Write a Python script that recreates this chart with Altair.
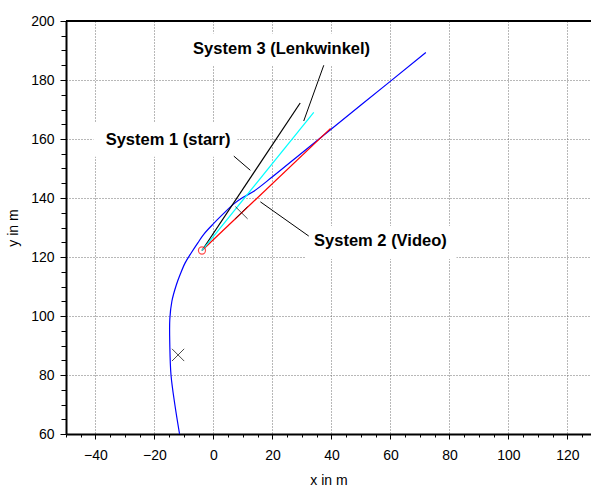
import altair as alt
import pandas as pd

# Vehicle track (blue), in metres
track_x = [-11.5, -13.1, -14.4, -14.8, -14.8, -14.1, -12.6, -11.2, -9.6, -7.4, -5.3,
           -3.3, 0.0, 3.3, 6.9, 10.2, 13.7, 20.0, 31.2, 50.0, 72.0]
track_y = [60.0, 70.0, 80.0, 90.0, 99.0, 105.0, 110.5, 114.3, 118.0, 121.6, 124.8,
           127.7, 131.3, 134.6, 138.0, 140.3, 142.3, 147.2, 156.3, 171.5, 189.3]

# Prediction rays from the current position
origin = (-3.9, 122.2)
ray_names = ["System 1 (starr)", "System 2 (Video)", "System 3 (Lenkwinkel)"]
ray_end_x = [29.4, 39.7, 34.0]
ray_end_y = [172.2, 163.6, 169.0]
ray_colors = ["#000000", "#ff0000", "#00ffff"]

# Cross markers
cross_x = [9.5, -12.0]
cross_y = [135.0, 86.8]

# Annotation labels with leader lines and white backing boxes
label_text = ["System 3 (Lenkwinkel)", "System 1 (starr)", "System 2 (Video)"]
label_x = [23.1, -15.4, 56.6]
label_y = [190.4, 159.6, 125.3]
leader_x = [37.4, 6.9, 15.9]
leader_y = [185.0, 154.2, 138.7]
leader_x2 = [30.6, 12.5, 32.3]
leader_y2 = [166.1, 149.4, 127.1]
box_x = [-11.2, -40.7, 31.2]
box_x2 = [57.3, 8.1, 82.4]
box_y = [185.0, 154.0, 119.3]
box_y2 = [195.8, 165.6, 130.5]

x_dom = [-50, 128]
y_dom = [60, 200]
x_vals = list(range(-50, 129, 5))
y_vals = list(range(60, 201, 5))

FONT = "Liberation Sans"

track = pd.DataFrame({"x": track_x, "y": track_y, "i": range(len(track_x))})
rays = pd.DataFrame({
    "name": ray_names * 2,
    "x": [origin[0]] * 3 + ray_end_x,
    "y": [origin[1]] * 3 + ray_end_y,
})
crosses = pd.DataFrame({"x": cross_x, "y": cross_y})
start = pd.DataFrame({"x": [origin[0]], "y": [origin[1]]})
labels = pd.DataFrame({"t": label_text, "x": label_x, "y": label_y})
leaders = pd.DataFrame({"x": leader_x, "y": leader_y, "x2": leader_x2, "y2": leader_y2})
boxes = pd.DataFrame({"x": box_x, "x2": box_x2, "y": box_y, "y2": box_y2})
frame = pd.DataFrame({"x": [x_dom[0]], "x2": [x_dom[1]], "y": [y_dom[1]]})

major = "datum.value % 20 === 0"

x_axis = alt.Axis(
    values=x_vals, title="x in m",
    labelExpr=f"{major} ? datum.label : ''",
    tickSize={"condition": {"test": major, "value": 5}, "value": 3},
    gridOpacity={"condition": {"test": f"{major} && datum.value > -50", "value": 1}, "value": 0},
    labelPadding=9, titlePadding=11,
)
y_axis = alt.Axis(
    values=y_vals, title="y in m",
    labelExpr=f"{major} ? datum.label : ''",
    tickSize={"condition": {"test": major, "value": 6}, "value": 5},
    gridOpacity={"condition": {"test": f"{major} && datum.value > 60 && datum.value < 200", "value": 1}, "value": 0},
    labelPadding=6, titlePadding=10,
)

X = alt.X("x:Q", scale=alt.Scale(domain=x_dom, nice=False, zero=False), axis=x_axis)
Y = alt.Y("y:Q", scale=alt.Scale(domain=y_dom, nice=False, zero=False), axis=y_axis)

track_layer = alt.Chart(track).mark_line(color="#0000ff", strokeWidth=1.2, interpolate="catmull-rom").encode(
    x=X, y=Y, order="i:Q"
)
ray_layer = alt.Chart(rays).mark_line(strokeWidth=1.2).encode(
    x=X, y=Y, detail="name:N",
    color=alt.Color("name:N", scale=alt.Scale(domain=ray_names, range=ray_colors), legend=None),
)
cross_layer = alt.Chart(crosses).mark_point(
    shape="M-1,-1L1,1M-1,1L1,-1", size=150, color="black", strokeWidth=1, filled=False
).encode(x=X, y=Y)
start_layer = alt.Chart(start).mark_point(
    shape="circle", size=50, color="#ff0000", strokeWidth=1.2, filled=False
).encode(x=X, y=Y)
box_layer = alt.Chart(boxes).mark_rect(color="white").encode(x=X, x2="x2", y=Y, y2="y2")
leader_layer = alt.Chart(leaders).mark_rule(color="black", strokeWidth=1).encode(
    x=X, y=Y, x2="x2", y2="y2"
)
label_layer = alt.Chart(labels).mark_text(
    font=FONT, fontSize=16.5, fontWeight="bold", color="black", align="center", baseline="middle"
).encode(x=X, y=Y, text="t:N")

# top frame line of the plot box
frame_top = alt.Chart(frame).mark_rule(color="black", strokeWidth=2).encode(
    x=X, x2="x2", y=Y
)

chart = alt.layer(
    track_layer, box_layer, ray_layer, leader_layer, cross_layer, start_layer, label_layer, frame_top
).properties(
    width=525, height=413,
    autosize=alt.AutoSizeParams(type="none"),
    padding={"left": 66, "top": 21, "right": 0, "bottom": 52},
).configure_view(stroke=None).configure_axis(
    labelFont=FONT, labelFontSize=14, labelColor="black",
    titleFont=FONT, titleFontSize=14, titleFontWeight="normal", titleColor="black",
    domainColor="black", domainWidth=2, tickColor="black", tickWidth=1,
    gridColor="#707070", gridDash=[1, 2], gridWidth=1,
)

chart.save("out.html", embed_options={"renderer": "svg", "actions": False})
